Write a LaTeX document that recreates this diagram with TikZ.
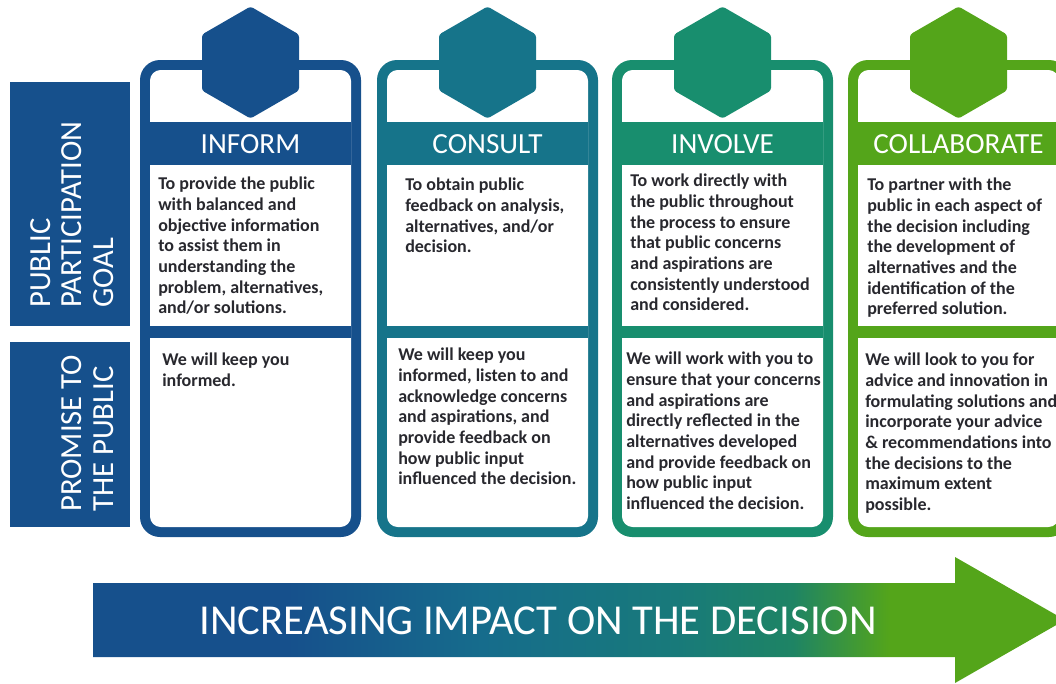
\documentclass[tikz,border=0pt]{standalone}
\usepackage{fontspec}
\setmainfont{Carlito}
\usetikzlibrary{shapes.geometric}

\definecolor{informblue}{RGB}{22,80,140}
\definecolor{consultteal}{RGB}{22,116,138}
\definecolor{involvegreen}{RGB}{24,142,110}
\definecolor{collabgreen}{RGB}{84,165,26}
\definecolor{bodygray}{RGB}{40,40,46}
\definecolor{arrowa}{RGB}{22,108,140}
\definecolor{arrowb}{RGB}{24,122,122}
\definecolor{arrowc}{RGB}{30,132,100}

\pgfdeclarehorizontalshading{impact}{100bp}{color(0bp)=(informblue); color(35bp)=(informblue); color(45bp)=(arrowa); color(55bp)=(arrowb); color(61bp)=(arrowc); color(66bp)=(collabgreen); color(100bp)=(collabgreen)}

\tikzset{
  hexa/.style={regular polygon, regular polygon sides=6, shape border rotate=30,
    minimum size=84pt, inner sep=0pt, rounded corners=2pt},
  headtext/.style={text=white, font=\fontsize{21.9}{26}\selectfont, inner sep=0pt},
  bodytext/.style={text=bodygray, anchor=north west, align=left, inner sep=0pt,
    font=\fontsize{13.5}{15.5}\selectfont\bfseries},
  sidelabel/.style={text=white, rotate=90, anchor=south west, align=left, inner sep=0pt,
    font=\fontsize{23}{23.6}\selectfont},
  arrowtext/.style={text=white, font=\fontsize{32}{38}\selectfont, inner sep=0pt}
}

\begin{document}
\begin{tikzpicture}[x=0.75pt, y=-0.75pt]
\useasboundingbox (0,0) rectangle (1056,683);
\clip (0,0) rectangle (1056,683);

% row labels
\fill[informblue] (10,82) rectangle (130,326);
\fill[informblue] (10,342) rectangle (130,527);
\node[sidelabel] (goal-label) at (113.5,308) {PUBLIC\\PARTICIPATION\\GOAL};
\node[sidelabel] (promise-label) at (113.5,512) {PROMISE TO\\THE PUBLIC};

% cards
\foreach \x/\c/\n/\t in {140/informblue/inform/INFORM, 377/consultteal/consult/CONSULT,
    612/involvegreen/involve/INVOLVE, 848/collabgreen/collab/COLLABORATE} {
  \fill[\c, rounded corners=15pt] (\x,60) rectangle ({\x+221},537);
  \fill[white, rounded corners=8pt] ({\x+10},70) rectangle ({\x+211},527);
  \fill[\c] ({\x+10},122) rectangle ({\x+211},165);
  \fill[\c] ({\x+10},326) rectangle ({\x+211},338);
  \node[hexa, fill=\c] (hex-\n) at ({\x+110.5},62.5) {};
  \node[headtext] (head-\n) at ({\x+110.5},144) {\t};
}

% goals
\node[bodytext] (goal-inform) at (158,177) {To provide the public\\with balanced and\\objective information\\to assist them in\\understanding the\\problem, alternatives,\\and/or solutions.};
\node[bodytext] (goal-consult) at (405,178) {To obtain public\\feedback on analysis,\\alternatives, and/or\\decision.};
\node[bodytext] (goal-involve) at (630,174) {To work directly with\\the public throughout\\the process to ensure\\that public concerns\\and aspirations are\\consistently understood\\and considered.};
\node[bodytext] (goal-collab) at (867,178) {To partner with the\\public in each aspect of\\the decision including\\the development of\\alternatives and the\\identification of the\\preferred solution.};

% promises
\node[bodytext] (promise-inform) at (162,353) {We will keep you\\informed.};
\node[bodytext] (promise-consult) at (398,348) {We will keep you\\informed, listen to and\\acknowledge concerns\\and aspirations, and\\provide feedback on\\how public input\\influenced the decision.};
\node[bodytext] (promise-involve) at (626,352) {We will work with you to\\ensure that your concerns\\and aspirations are\\directly reflected in the\\alternatives developed\\and provide feedback on\\how public input\\influenced the decision.};
\node[bodytext] (promise-collab) at (865,353) {We will look to you for\\advice and innovation in\\formulating solutions and\\incorporate your advice\\\& recommendations into\\the decisions to the\\maximum extent\\possible.};

% impact arrow
\shade[shading=impact] (93,583) -- (955,583) -- (955,557) -- (1065,620) -- (955,683)
  -- (955,657) -- (93,657) -- cycle;
\node[arrowtext] (impact) at (538,621) {INCREASING IMPACT ON THE DECISION};
\end{tikzpicture}
\end{document}
